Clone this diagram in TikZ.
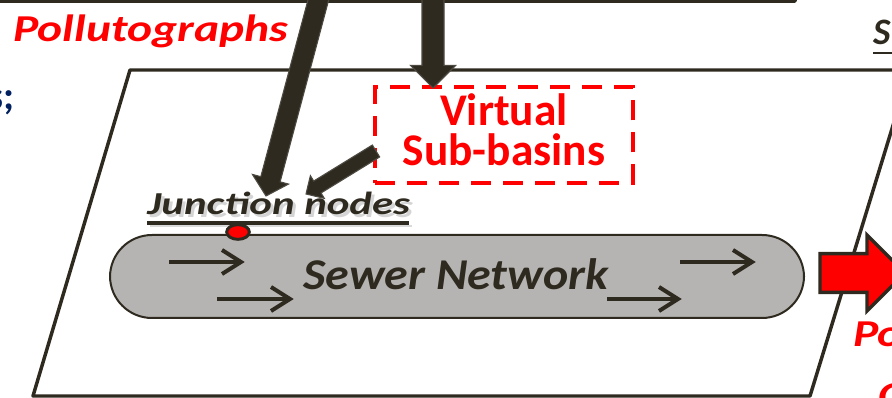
\documentclass[tikz,border=0pt]{standalone}
\usepackage{fontspec}
\setmainfont{Carlito}
\usetikzlibrary{calc,shapes.geometric}
\definecolor{dk}{RGB}{46,42,32}
\definecolor{pred}{RGB}{255,0,0}
\definecolor{navy}{RGB}{0,32,96}
\definecolor{sgray}{RGB}{181,180,178}
\newcommand\blockarrow[6]{%
  \coordinate (ba-h) at ($(#3)!#6!(#2)$);
  \path[#1] ($(#2)!#4!90:(#3)$) -- ($(ba-h)!#4!-90:(#2)$) -- ($(ba-h)!#5!-90:(#2)$) -- (#3)
    -- ($(ba-h)!#5!90:(#2)$) -- ($(ba-h)!#4!90:(#2)$) -- ($(#2)!#4!-90:(#3)$) -- cycle;}
\tikzset{
  frame/.style={draw=dk, line width=2.6pt, line join=round},
  darrow/.style={fill=dk, draw=dk!85!white, line width=0.8pt, line join=miter},
  rarrow/.style={fill=pred, draw=dk, line width=2.6pt, line join=miter},
  flow/.style={draw=dk, line width=3pt, line cap=butt},
  redlbl/.style={text=pred, font=\fontsize{28.5}{32}\selectfont\bfseries\itshape\addfontfeatures{FakeStretch=1.25}, inner sep=0pt},
  juncfont/.style={font=\fontsize{24}{28}\selectfont\bfseries\itshape\addfontfeatures{FakeStretch=1.34}, anchor=base west, inner sep=0pt},
}
\begin{document}
\begin{tikzpicture}[x=0.75pt,y=-0.75pt]
\useasboundingbox (0,0) rectangle (892,398);
\clip (0,0) rectangle (892,398);
% top box
\draw[frame] (-20,-40) rectangle (795,1);
% parallelogram plane
\draw[frame] (130,70) -- (910,70) -- (810,396) -- (33,396) -- cycle;
% sewer network
\draw[draw=dk, line width=1.5pt, fill=sgray, rounded corners=31.5pt] (110,235) rectangle (804,318);
\node[text=dk, font=\fontsize{33}{36}\selectfont\bfseries\itshape\addfontfeatures{FakeStretch=1.09}, anchor=base, inner sep=0pt] (sewer) at (456,290) {Sewer Network};
% flow arrows
\coordinate (f1a) at (169,262); \coordinate (f1b) at (241,262);
\coordinate (f2a) at (217,299); \coordinate (f2b) at (290,299);
\coordinate (f3a) at (680,262); \coordinate (f3b) at (752,262);
\coordinate (f4a) at (607,299); \coordinate (f4b) at (678,299);
\foreach \a/\b in {f1a/f1b,f2a/f2b,f3a/f3b,f4a/f4b}{
  \draw[flow] (\a) -- (\b);
  \draw[flow, line join=miter] ($(\b)+(-19,-12)$) -- (\b) -- ($(\b)+(-19,12)$);
}
% junction nodes label
\node[juncfont, text=black!30, opacity=0.55] (juncsh) at (150,218) {Junction nodes};
\node[juncfont, text=dk] (junc) at (147,215) {Junction nodes};
\draw[black!25, opacity=0.6, line width=2.2pt] (150,226) -- (412,226);
\draw[dk, line width=2.4pt] (147,223) -- (409,223);
% junction dot
\node[ellipse, draw=dk, fill=pred, line width=2.2pt, minimum width=17pt, minimum height=11pt, inner sep=0pt] (dot) at (238,232) {};
% virtual sub-basins
\node[draw=pred, dashed, dash pattern=on 15pt off 9pt, line width=3pt, minimum width=193pt, minimum height=72pt, inner sep=0pt] (vbox) at (504,135) {};
\node[text=pred, font=\fontsize{34}{30}\selectfont\bfseries, align=center, inner sep=0pt] (vtext) at (504,130) {Virtual\\Sub-basins};
% dark arrows
\coordinate (srcA) at (433,-10); \coordinate (tipA) at (433,88);
\coordinate (srcB) at (321,-10); \coordinate (tipB) at (266,196);
\coordinate (srcC) at (376,151); \coordinate (tipC) at (306,194);
\blockarrow{darrow}{srcA}{tipA}{8.25pt}{17pt}{17pt}
\blockarrow{darrow}{srcB}{tipB}{7.5pt}{14pt}{13pt}
\blockarrow{darrow}{srcC}{tipC}{5.25pt}{10pt}{10pt}
% red output arrow
\coordinate (srcR) at (820,273); \coordinate (tipR) at (905,273);
\blockarrow{rarrow}{srcR}{tipR}{14.6pt}{28.5pt}{28.5pt}
% labels
\node[redlbl, anchor=base west] (poll) at (13,42) {Pollutographs};
\node[redlbl, anchor=base west] (po) at (853,347) {Po};
\node[redlbl, anchor=north west] (cc) at (878,383) {C};
\node[text=navy, font=\fontsize{30}{32}\selectfont\bfseries, anchor=base east, inner sep=0pt] (semi) at (15,110) {s;};
\node[text=dk, font=\fontsize{28}{32}\selectfont\bfseries\itshape, anchor=base west, inner sep=0pt] (stext) at (873,45) {S};
\draw[dk, line width=2.2pt] (873,53) -- (900,53);
\end{tikzpicture}
\end{document}
